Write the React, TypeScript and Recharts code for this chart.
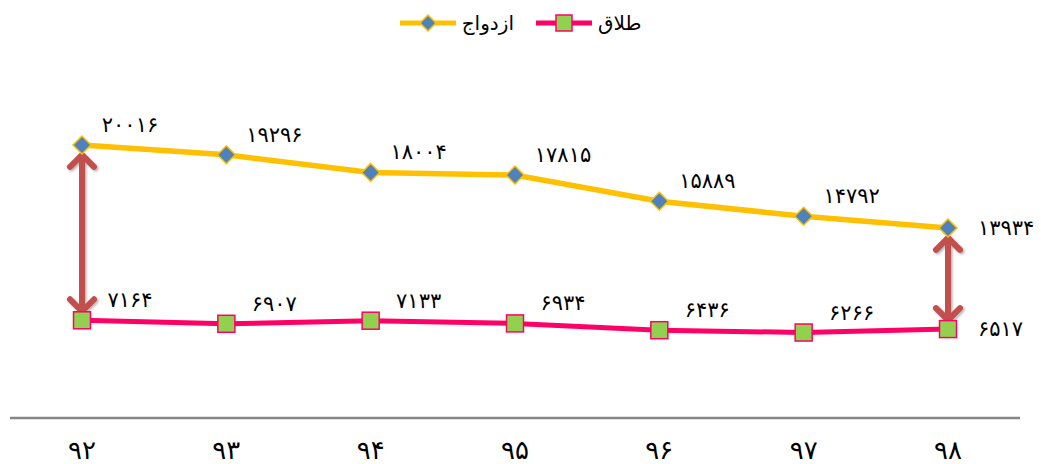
import React from 'react';
import { LineChart, Line, XAxis, YAxis, Legend, LabelList, ReferenceLine } from 'recharts';

const years = ['۹۲', '۹۳', '۹۴', '۹۵', '۹۶', '۹۷', '۹۸'];
const marriage = [20016, 19296, 18004, 17815, 15889, 14792, 13934];
const divorce = [7164, 6907, 7133, 6934, 6436, 6266, 6517];

const data = years.map((year, i) => ({ year, marriage: marriage[i], divorce: divorce[i] }));

const FONT = '"DejaVu Sans", sans-serif';
const ARROW = '#C0504D';

const toFa = (n: number | string) => String(n).replace(/\d/g, (d) => '۰۱۲۳۴۵۶۷۸۹'[+d]);

const Diamond = (props: any) => {
  const { cx, cy } = props;
  if (cx == null || cy == null) return null;
  const r = 9;
  return (
    <path
      d={`M${cx},${cy - r}L${cx + r},${cy}L${cx},${cy + r}L${cx - r},${cy}Z`}
      fill="#4F81BD"
      stroke="#FFC000"
      strokeWidth={1.5}
    />
  );
};

const Square = (props: any) => {
  const { cx, cy } = props;
  if (cx == null || cy == null) return null;
  const s = 8.5;
  return <rect x={cx - s} y={cy - s} width={s * 2} height={s * 2} fill="#92D050" stroke="#FF0066" strokeWidth={1.5} />;
};

const renderLabel = (props: any) => {
  const x = props.x ?? props.viewBox?.x;
  const y = props.y ?? props.viewBox?.y;
  const last = props.index === years.length - 1;
  return (
    <text
      x={last ? x + 30 : x + 48}
      y={last ? y : y - 20}
      textAnchor={last ? 'start' : 'middle'}
      dominantBaseline="central"
      fontFamily={FONT}
      fontSize={21}
      letterSpacing={4.5}
      fill="#000"
    >
      {toFa(props.value)}
    </text>
  );
};

const Tick = (props: any) => {
  const { x, y, payload } = props;
  return (
    <text x={x} y={y + 32} textAnchor="middle" dominantBaseline="central" fontFamily={FONT} fontSize={26} fill="#000">
      {payload.value}
    </text>
  );
};

const ArrowShape = (props: any) => {
  const { x1, y1, y2 } = props;
  if (x1 == null) return null;
  const top = Math.min(y1, y2) + 10;
  const bottom = Math.max(y1, y2) - 9;
  const h = 12;
  return (
    <g stroke={ARROW} strokeWidth={6} fill="none" strokeLinecap="round" strokeLinejoin="round" filter="url(#arrowShadow)">
      <defs>
        <filter id="arrowShadow" x="-50%" y="-10%" width="200%" height="120%">
          <feDropShadow dx="1.5" dy="1.5" stdDeviation="1.2" floodColor="#000" floodOpacity="0.3" />
        </filter>
      </defs>
      <line x1={x1} y1={top + 1} x2={x1} y2={bottom - 1} />
      <polyline points={`${x1 - h},${top + h} ${x1},${top} ${x1 + h},${top + h}`} />
      <polyline points={`${x1 - h},${bottom - h} ${x1},${bottom} ${x1 + h},${bottom - h}`} />
    </g>
  );
};

const LegendContent = () => {
  const items = [
    { name: 'طلاق', color: '#FF0066', marker: 'square' },
    { name: 'ازدواج', color: '#FFC000', marker: 'diamond' },
  ];
  return (
    <div
      style={{
        direction: 'rtl',
        display: 'flex',
        justifyContent: 'center',
        alignItems: 'center',
        gap: 22,
        height: 30,
        fontFamily: FONT,
        fontSize: 20,
      }}
    >
      {items.map((it) => (
        <div key={it.name} style={{ display: 'flex', alignItems: 'center', gap: 6 }}>
          <span>{it.name}</span>
          <svg width={56} height={20}>
            <line x1={0} y1={10} x2={56} y2={10} stroke={it.color} strokeWidth={5} />
            {it.marker === 'square' ? (
              <rect x={20} y={2} width={16} height={16} fill="#92D050" stroke="#FF0066" strokeWidth={1.5} />
            ) : (
              <path d="M28,2L36,10L28,18L20,10Z" fill="#4F81BD" stroke="#FFC000" strokeWidth={1.5} />
            )}
          </svg>
        </div>
      ))}
    </div>
  );
};

export default function App() {
  const first = years[0];
  const last = years[years.length - 1];
  return (
    <div style={{ position: 'absolute', left: 0, top: 0 }}>
      <LineChart width={1041} height={464} data={data} margin={{ top: 47, right: 21, bottom: 0, left: 10 }}>
        <Legend verticalAlign="top" content={<LegendContent />} wrapperStyle={{ top: 8, left: 0, width: 1041 }} />
        <XAxis
          dataKey="year"
          height={46}
          tickSize={0}
          tickMargin={0}
          tickLine={false}
          axisLine={{ stroke: '#868686', strokeWidth: 2.5 }}
          tick={<Tick />}
          interval={0}
          padding={{ left: 72, right: 72 }}
        />
        <YAxis hide domain={[0, 25000]} />
        <ReferenceLine
          segment={[
            { x: first, y: marriage[0] },
            { x: first, y: divorce[0] },
          ]}
          shape={<ArrowShape />}
          ifOverflow="visible"
        />
        <ReferenceLine
          segment={[
            { x: last, y: marriage[marriage.length - 1] },
            { x: last, y: divorce[divorce.length - 1] },
          ]}
          shape={<ArrowShape />}
          ifOverflow="visible"
        />
        <Line
          dataKey="divorce"
          name="طلاق"
          stroke="#FF0066"
          strokeWidth={5}
          dot={<Square />}
          activeDot={false}
          isAnimationActive={false}
        >
          <LabelList dataKey="divorce" content={renderLabel} />
        </Line>
        <Line
          dataKey="marriage"
          name="ازدواج"
          stroke="#FFC000"
          strokeWidth={5.5}
          dot={<Diamond />}
          activeDot={false}
          isAnimationActive={false}
        >
          <LabelList dataKey="marriage" content={renderLabel} />
        </Line>
      </LineChart>
    </div>
  );
}
